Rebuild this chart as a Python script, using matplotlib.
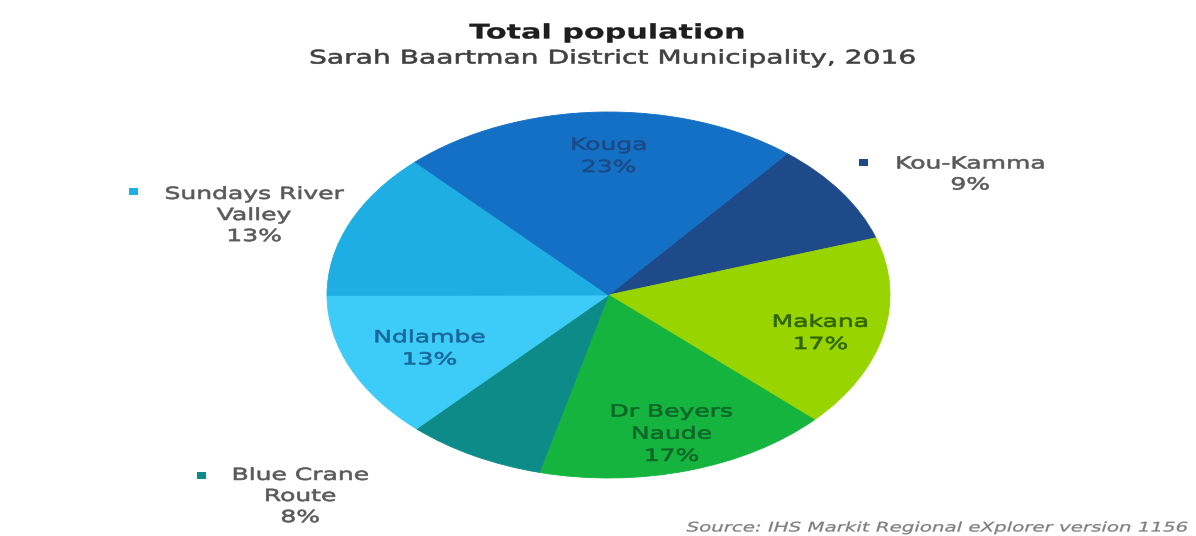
import numpy as np
import matplotlib
matplotlib.use("Agg")
import matplotlib.pyplot as plt
from matplotlib import patheffects
from matplotlib.transforms import Affine2D
from matplotlib.patches import Rectangle

# ---- data -------------------------------------------------------------
municipalities = ["Kou-Kamma", "Makana", "Dr Beyers\nNaude", "Blue Crane\nRoute",
                  "Ndlambe", "Sundays River\nValley", "Kouga"]
shares = [9, 17, 17, 8, 13, 13, 23]
slice_colors = ["#1F4A8A", "#98D400", "#14B43E", "#0C8B89",
                "#3DCBF8", "#1FAEE4", "#1370C4"]
label_colors = ["#595959", "#2F6400", "#0D6627", "#595959",
                "#17679A", "#595959", "#1B4A88"]
inside = [False, True, True, False, True, False, True]

title = "Total population"
subtitle = "Sarah Baartman District Municipality, 2016"
source = "Source: IHS Markit Regional eXplorer version 1156"

W, H = 1196, 536
SX = 1.5  # horizontal stretch of the whole graphic


class StretchX(patheffects.AbstractPathEffect):
    """Widen glyph outlines horizontally about the text anchor,
    optionally thickening them with a thin outline of the same colour."""

    def __init__(self, artist, sx, stroke=0.0):
        super().__init__()
        self.artist = artist
        self.sx = sx
        self.stroke = stroke

    def draw_path(self, renderer, gc, tpath, affine, rgbFace=None):
        x0 = self.artist.get_transform().transform(self.artist.get_position())[0]
        stretch = Affine2D().translate(-x0, 0).scale(self.sx, 1).translate(x0, 0)
        gc0 = renderer.new_gc()
        gc0.copy_properties(gc)
        if self.stroke > 0 and rgbFace is not None:
            gc0.set_linewidth(self.stroke)
            gc0.set_foreground(rgbFace)
            gc0.set_joinstyle("round")
        renderer.draw_path(gc0, tpath, affine + stretch, rgbFace)
        gc0.restore()


def wide_text(target, x, y, s, stroke=0.45, **kw):
    t = target.text(x, y, s, **kw)
    t.set_path_effects([StretchX(t, SX, stroke)])
    return t


def fx(px):
    return px / W


def fy(py):
    return 1 - py / H


fig = plt.figure(figsize=(W / 100, H / 100), dpi=100)
fig.patch.set_facecolor("white")

# pie drawn in an axes wider than tall -> elliptical pie
ax = fig.add_axes([fx(327), fy(478), (890 - 327) / W, (478 - 112) / H])
wedges, _ = ax.pie(shares, colors=slice_colors, startangle=50.6,
                   counterclock=False, radius=1.0,
                   wedgeprops=dict(linewidth=0.6, antialiased=True))
for w, c in zip(wedges, slice_colors):
    w.set_edgecolor(c)
ax.set_aspect("auto")
ax.set_xlim(-1, 1)
ax.set_ylim(-1, 1)
ax.axis("off")

# labels inside the slices, placed along each wedge's mid angle
inner_place = {1: (0.78, 3.0), 2: (0.79, 0.0), 4: (0.70, -1.0), 6: (0.76, 2.0)}
for i, w in enumerate(wedges):
    if not inside[i]:
        continue
    r, dtheta = inner_place[i]
    mid = np.deg2rad((w.theta1 + w.theta2) / 2 - dtheta)
    wide_text(ax, r * np.cos(mid), r * np.sin(mid),
              f"{municipalities[i]}\n{shares[i]}%",
              ha="center", va="center", fontsize=12,
              color=label_colors[i], linespacing=1.3)

# labels outside the pie with a colour swatch
outer_layout = {
    5: dict(text=(254, 215), swatch=(129, 188)),
    0: dict(text=(970, 174), swatch=(859, 159)),
    3: dict(text=(300, 496), swatch=(197, 472)),
}
for i, lay in outer_layout.items():
    tx, ty = lay["text"]
    wide_text(fig, fx(tx), fy(ty), f"{municipalities[i]}\n{shares[i]}%",
              ha="center", va="center", fontsize=12,
              color=label_colors[i], linespacing=1.22)
    sx, sy = lay["swatch"]
    fig.patches.append(Rectangle((fx(sx), fy(sy + 7)), 9 / W, 7 / H,
                                 transform=fig.transFigure,
                                 facecolor=slice_colors[i], edgecolor="none"))

wide_text(fig, fx(608), fy(33), title, ha="center", va="center",
          fontsize=14.5, fontweight="bold", color="#1E1E1E", stroke=0.2)
wide_text(fig, fx(613), fy(58), subtitle, ha="center", va="center",
          fontsize=13.5, color="#404040")
wide_text(fig, fx(1190), fy(528), source, ha="right", va="center",
          fontsize=9.5, fontstyle="italic", color="#7F7F7F", stroke=0.2)

fig.savefig("out.png", dpi=100, facecolor="white")
